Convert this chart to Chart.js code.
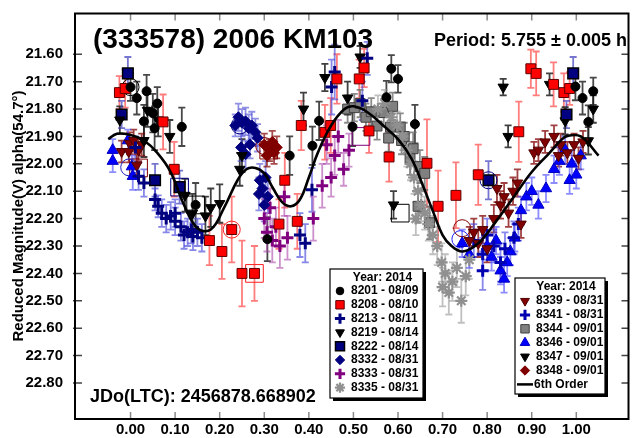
<!DOCTYPE html>
<html><head><meta charset="utf-8">
<script src="https://cdn.jsdelivr.net/npm/chart.js@4.4.0/dist/chart.umd.min.js"></script>
<style>html,body{margin:0;padding:0;background:#fff;overflow:hidden}</style>
</head><body>
<canvas id="c" width="642" height="438"></canvas>
<script>
// ---------- tick labels ----------
const xTickValues = [0.0,0.1,0.2,0.3,0.4,0.5,0.6,0.7,0.8,0.9,1.0];
const yTickValues = [21.6,21.7,21.8,21.9,22.0,22.1,22.2,22.3,22.4,22.5,22.6,22.7,22.8];

// ---------- fit curve (6th order) : phase, magnitude ----------
const fitPhase = [-0.05,-0.03,0.00,0.03,0.06,0.09,0.12,0.15,0.18,0.21,0.24,0.26,0.28,0.30,0.32,0.34,0.36,0.38,0.40,0.42,0.45,0.48,0.50,0.53,0.57,0.60,0.63,0.656,0.68,0.70,0.72,0.745,0.78,0.82,0.86,0.90,0.94,0.965,0.98,1.01,1.05];
const fitMag   = [21.91,21.89,21.895,21.915,21.96,22.03,22.15,22.235,22.24,22.16,22.06,22.02,22.015,22.035,22.09,22.14,22.155,22.13,22.05,21.96,21.86,21.80,21.79,21.81,21.865,21.91,21.98,22.08,22.18,22.26,22.30,22.32,22.29,22.21,22.12,22.03,21.96,21.915,21.898,21.90,21.97];

// ---------- observations : [phase, magnitude, error] ----------
const s8201 = [[0.000,21.720,0.05],[0.014,21.760,0.06],[0.036,21.735,0.06],[0.030,21.845,0.06],[0.050,21.815,0.07],[0.060,21.780,0.06],[0.054,21.870,0.08],[0.115,21.865,0.07],[0.146,22.150,0.08],[0.307,22.275,0.08],[0.357,21.970,0.07],[0.408,21.934,0.07],[0.423,21.843,0.07],[0.498,21.865,0.07],[0.574,21.757,0.06],[0.585,21.653,0.05],[0.600,21.690,0.05],[0.638,21.855,0.07],[0.998,21.718,0.05],[1.014,21.760,0.06],[1.027,21.847,0.06],[1.038,21.735,0.05]];
const s8208 = [[-0.025,21.740,0.06],[-0.012,21.725,0.07],[0.073,21.847,0.10],[0.098,22.020,0.10],[0.177,22.280,0.09],[0.227,22.240,0.12],[0.205,22.320,0.10],[0.250,22.400,0.12],[0.278,22.400,0.10],[0.333,22.220,0.09],[0.346,22.060,0.10],[0.374,22.210,0.10],[0.383,21.860,0.09],[0.436,21.885,0.10],[0.449,21.860,0.10],[0.463,21.690,0.09],[0.513,21.690,0.07],[0.524,21.650,0.07],[0.535,21.880,0.08],[0.580,21.975,0.09],[0.665,21.998,0.16],[0.690,22.155,0.13],[0.730,22.115,0.12],[0.780,22.040,0.11],[0.871,21.883,0.11],[0.898,21.653,0.07],[0.910,21.670,0.08],[0.949,21.710,0.08],[0.972,21.740,0.07],[0.985,21.725,0.06]];
const s8213 = [[0.011,21.940,0.04],[0.018,22.045,0.05],[0.030,22.070,0.05],[0.055,22.130,0.04],[0.062,22.155,0.04],[0.070,22.180,0.05],[0.080,22.200,0.05],[0.090,22.190,0.05],[0.100,22.210,0.05],[0.100,22.180,0.05],[0.113,22.230,0.05],[0.120,22.260,0.05],[0.128,22.250,0.05],[0.136,22.240,0.05],[0.140,22.265,0.05],[0.150,22.250,0.05],[0.160,22.270,0.05],[0.380,22.260,0.08],[0.392,22.290,0.07],[0.407,22.095,0.08],[0.451,21.720,0.10],[0.458,21.665,0.10],[0.531,21.615,0.06],[0.520,21.770,0.07]];
const s8219 = [[-0.024,21.840,0.05],[0.030,21.915,0.06],[0.038,21.805,0.06],[0.062,21.840,0.06],[0.088,21.900,0.06],[0.122,22.115,0.06],[0.139,22.180,0.07],[0.168,22.190,0.07],[0.180,22.160,0.07],[0.200,22.145,0.07],[0.245,22.020,0.06],[0.250,21.970,0.06]];
const s8222 = [[-0.006,21.670,0.06],[-0.020,21.820,0.05],[0.055,22.060,0.06],[0.110,22.085,0.06],[0.803,22.060,0.07],[0.978,21.820,0.05],[0.993,21.670,0.06]];
const s8332 = [[0.235,21.860,0.04],[0.242,21.830,0.05],[0.250,21.850,0.05],[0.258,21.845,0.05],[0.265,21.870,0.05],[0.272,21.860,0.05],[0.280,21.885,0.05],[0.285,21.905,0.05],[0.248,21.940,0.05],[0.258,21.965,0.05],[0.268,21.930,0.05],[0.290,22.060,0.06],[0.296,22.090,0.06],[0.303,22.050,0.06],[0.308,22.120,0.06],[0.300,22.150,0.06],[0.288,22.110,0.06]];
const s8333 = [[0.300,22.200,0.07],[0.306,22.250,0.07],[0.313,22.160,0.07],[0.318,22.280,0.08],[0.326,22.230,0.07],[0.335,22.300,0.08],[0.345,22.120,0.07],[0.352,22.270,0.08],[0.410,22.200,0.08],[0.430,22.080,0.08],[0.440,21.930,0.07],[0.450,22.050,0.07],[0.458,21.970,0.07],[0.466,21.900,0.06],[0.478,22.020,0.06],[0.490,21.950,0.06]];
const s8335 = [[0.555,21.800,0.05],[0.570,21.780,0.05],[0.585,21.830,0.05],[0.598,21.860,0.05],[0.610,21.900,0.05],[0.620,21.950,0.06],[0.628,22.000,0.06],[0.636,22.050,0.06],[0.645,22.100,0.06],[0.652,22.150,0.06],[0.660,22.180,0.06],[0.668,22.220,0.06],[0.678,22.260,0.07],[0.688,22.300,0.07],[0.698,22.360,0.07],[0.706,22.400,0.07],[0.714,22.470,0.08],[0.722,22.430,0.07],[0.732,22.380,0.07],[0.742,22.500,0.08],[0.752,22.410,0.07],[0.760,22.350,0.07],[0.640,22.200,0.06],[0.700,22.450,0.07]];
const s8339 = [[-0.020,21.955,0.04],[-0.004,21.955,0.04],[-0.002,21.925,0.04],[0.007,21.915,0.04],[0.014,22.005,0.04],[0.018,21.950,0.04],[0.025,21.930,0.04],[0.760,22.280,0.05],[0.770,22.250,0.05],[0.780,22.290,0.05],[0.790,22.240,0.05],[0.800,22.310,0.05],[0.815,22.200,0.05],[0.822,22.090,0.05],[0.830,22.150,0.05],[0.838,22.120,0.05],[0.848,22.180,0.05],[0.858,22.100,0.05],[0.868,22.070,0.05],[0.876,22.220,0.05],[0.905,21.960,0.04],[0.915,21.950,0.04],[0.930,21.920,0.04],[0.950,21.900,0.04],[0.960,21.970,0.04],[0.965,21.930,0.04],[0.980,21.960,0.04],[0.995,21.930,0.04],[1.005,21.980,0.04],[1.015,21.920,0.04]];
const s8341 = [[0.770,22.280,0.06],[0.790,22.330,0.06],[0.790,22.390,0.07],[0.800,22.260,0.06],[0.815,22.300,0.06],[0.830,22.360,0.07],[0.840,22.310,0.06],[0.860,22.270,0.06],[0.870,22.220,0.06]];
const s8344 = [[0.487,21.800,0.05],[0.502,21.795,0.05],[0.515,21.780,0.05],[0.528,21.830,0.05],[0.540,21.810,0.05],[0.553,21.862,0.05],[0.568,21.813,0.05],[0.579,21.906,0.05],[0.583,21.866,0.05],[0.588,21.790,0.05],[0.605,21.866,0.05],[0.608,21.915,0.05],[0.614,21.900,0.05],[0.627,21.980,0.06],[0.634,21.945,0.06],[0.645,22.155,0.06],[0.649,22.010,0.06],[0.660,22.035,0.06],[0.671,22.215,0.06]];
const s8346 = [[-0.040,21.950,0.04],[-0.040,21.990,0.04],[-0.006,21.915,0.04],[0.003,22.010,0.04],[0.005,22.045,0.05],[0.744,22.290,0.05],[0.760,22.330,0.05],[0.800,22.300,0.05],[0.810,22.340,0.05],[0.820,22.280,0.05],[0.830,22.390,0.05],[0.838,22.420,0.05],[0.845,22.360,0.05],[0.852,22.320,0.05],[0.862,22.270,0.05],[0.876,22.170,0.05],[0.888,22.120,0.05],[0.900,22.100,0.05],[0.915,22.150,0.05],[0.932,22.090,0.05],[0.950,22.020,0.05],[0.962,21.990,0.05],[0.975,21.950,0.05],[0.985,22.060,0.05],[0.990,22.000,0.05],[1.000,22.040,0.05],[1.010,21.970,0.05]];
const s8347 = [[0.388,21.800,0.06],[0.436,21.685,0.05],[0.487,21.760,0.06],[0.515,21.610,0.04],[0.590,22.150,0.05],[0.836,21.720,0.03],[0.847,21.900,0.04],[0.940,21.710,0.04],[0.975,21.843,0.05],[1.027,21.916,0.05],[1.038,21.800,0.05]];
const s8348 = [[0.300,21.930,0.04],[0.306,21.970,0.04],[0.312,21.950,0.04],[0.318,21.920,0.04],[0.322,21.960,0.04],[0.328,21.940,0.04]];

// ---------- flagged (open) markers : [phase, magnitude] ----------
const openCircles = [[0.000,21.720],[-0.003,22.013],[0.227,22.240],[0.245,21.860],[0.300,21.935],[0.803,22.060],[0.744,22.235],[0.740,22.275]];
const openCircleColors = ['#000000','#2020c0','#ff2020','#000080','#800000','#000080','#800000','#2020ff'];
const openSquares = [[0.018,22.015],[0.110,22.085],[0.146,22.150],[0.278,22.400],[0.310,21.950],[0.517,21.900],[0.605,22.180]];
const openSquareColors = ['#800000','#000080','#000000','#ff2020','#800000','#800080','#000000'];

// ---------- series styles ----------
const FONT = "'Liberation Sans', Arial, sans-serif";
const series = [
  {label:'8201 - 08/09', data:s8201, style:'circle',   radius:4.5, rot:0,   fill:'#000000', stroke:'#000000', bw:1,   err:'rgba(40,40,40,0.85)', legend:1},
  {label:'8208 - 08/10', data:s8208, style:'rect',     radius:7,   rot:0,   fill:'#ff0000', stroke:'#5a0000', bw:1,   err:'rgba(255,70,70,0.7)', legend:1},
  {label:'8213 - 08/11', data:s8213, style:'cross',    radius:6,   rot:0,   fill:'#000080', stroke:'#000080', bw:3,   err:'rgba(70,70,220,0.65)', legend:1},
  {label:'8219 - 08/14', data:s8219, style:'triangle', radius:6,   rot:180, fill:'#000000', stroke:'#000000', bw:1,   err:'rgba(30,30,30,0.85)', legend:1},
  {label:'8222 - 08/14', data:s8222, style:'rect',     radius:7.5, rot:0,   fill:'#000080', stroke:'#000000', bw:1.5, err:'rgba(60,60,190,0.7)', legend:1},
  {label:'8332 - 08/31', data:s8332, style:'rectRot',  radius:5.5, rot:0,   fill:'#000080', stroke:'#000080', bw:1,   err:'rgba(70,70,210,0.6)', legend:1},
  {label:'8333 - 08/31', data:s8333, style:'cross',    radius:6,   rot:0,   fill:'#800080', stroke:'#800080', bw:3,   err:'rgba(170,70,170,0.6)', legend:1},
  {label:'8335 - 08/31', data:s8335, style:'star',     radius:6,   rot:0,   fill:'#909090', stroke:'#909090', bw:2.2, err:'rgba(150,150,150,0.6)', legend:1},
  {label:'8339 - 08/31', data:s8339, style:'triangle', radius:6,   rot:180, fill:'#800000', stroke:'#500000', bw:1,   err:'rgba(128,0,0,0.75)', legend:2},
  {label:'8341 - 08/31', data:s8341, style:'cross',    radius:6,   rot:0,   fill:'#0000b0', stroke:'#0000b0', bw:3,   err:'rgba(70,70,230,0.65)', legend:2},
  {label:'8344 - 09/01', data:s8344, style:'rect',     radius:7,   rot:0,   fill:'#808080', stroke:'#404040', bw:1,   err:'rgba(110,110,110,0.8)', legend:2},
  {label:'8346 - 09/01', data:s8346, style:'triangle', radius:6.5, rot:0,   fill:'#0000ff', stroke:'#0000c0', bw:1,   err:'rgba(80,80,255,0.65)', legend:2},
  {label:'8347 - 09/01', data:s8347, style:'triangle', radius:6,   rot:180, fill:'#000000', stroke:'#000000', bw:1,   err:'rgba(30,30,30,0.85)', legend:2},
  {label:'8348 - 09/01', data:s8348, style:'rectRot',  radius:5.5, rot:0,   fill:'#800000', stroke:'#800000', bw:1,   err:'rgba(128,0,0,0.7)', legend:2}
];

const datasets = [{
  type:'line', label:'6th Order',
  data: fitPhase.map((p,i)=>({x:p, y:fitMag[i]})),
  borderColor:'#000', borderWidth:2.6, pointRadius:0, tension:0.4, fill:false, order:0
}];
series.forEach((s,i)=>{
  datasets.push({
    type:'scatter', label:s.label,
    data: s.data.map(d=>({x:d[0], y:d[1], e:d[2]})),
    pointStyle:s.style, pointRadius:s.radius, pointRotation:s.rot,
    backgroundColor:s.fill, borderColor:s.stroke, borderWidth:s.bw,
    errColor:s.err, order:1+i
  });
});
datasets.push({type:'scatter', label:'flagged circles', data:openCircles.map(d=>({x:d[0], y:d[1]})),
  pointStyle:'circle', pointRadius:8.5, backgroundColor:'rgba(0,0,0,0)', borderColor:openCircleColors, borderWidth:1, order:20});
datasets.push({type:'scatter', label:'flagged squares', data:openSquares.map(d=>({x:d[0], y:d[1]})),
  pointStyle:'rect', pointRadius:12.5, backgroundColor:'rgba(0,0,0,0)', borderColor:openSquareColors, borderWidth:1, order:21});

// ---------- plugins ----------
const errorBars = {
  id:'errorBars',
  beforeDatasetsDraw(chart){
    const {ctx, chartArea:a, scales:{x,y}} = chart;
    ctx.save();
    ctx.beginPath(); ctx.rect(a.left, a.top, a.right-a.left, a.bottom-a.top); ctx.clip();
    ctx.lineWidth = 1.8;
    chart.data.datasets.forEach(ds=>{
      if(!ds.errColor) return;
      ctx.strokeStyle = ds.errColor;
      ds.data.forEach(pt=>{
        const px = x.getPixelForValue(pt.x);
        const y1 = y.getPixelForValue(pt.y - pt.e), y2 = y.getPixelForValue(pt.y + pt.e);
        ctx.beginPath();
        ctx.moveTo(px, y1); ctx.lineTo(px, y2);
        ctx.moveTo(px-3.5, y1); ctx.lineTo(px+3.5, y1);
        ctx.moveTo(px-3.5, y2); ctx.lineTo(px+3.5, y2);
        ctx.stroke();
      });
    });
    ctx.restore();
  }
};

function drawMarker(ctx, s, x, y){
  ctx.save();
  ctx.fillStyle = s.fill; ctx.strokeStyle = s.stroke; ctx.lineWidth = s.bw;
  Chart.helpers.drawPoint(ctx, {pointStyle:s.style, radius:s.radius*0.85, rotation:s.rot, borderWidth:s.bw}, x, y);
  ctx.restore();
}

function drawLegend(ctx, box, entries, withFit){
  ctx.save();
  ctx.fillStyle = '#000';
  ctx.fillRect(box.x+3, box.y+3, box.w, box.h);
  ctx.fillStyle = '#fff';
  ctx.fillRect(box.x, box.y, box.w, box.h);
  ctx.strokeStyle = '#000'; ctx.lineWidth = 1.2;
  ctx.strokeRect(box.x, box.y, box.w, box.h);
  ctx.fillStyle = '#000';
  ctx.font = 'bold 12px ' + FONT;
  ctx.textBaseline = 'middle';
  ctx.textAlign = 'center';
  ctx.fillText('Year: 2014', box.x + box.w/2 + 6, box.y + box.t);
  ctx.textAlign = 'left';
  entries.forEach((s,i)=>{
    const cy = box.y + box.first + i*box.step;
    drawMarker(ctx, s, box.x + 10, cy);
    ctx.fillStyle = '#000';
    ctx.fillText(s.label, box.x + 21, cy);
  });
  if(withFit){
    const cy = box.y + box.first + entries.length*box.step;
    ctx.strokeStyle = '#000'; ctx.lineWidth = 2.5;
    ctx.beginPath(); ctx.moveTo(box.x+2, cy); ctx.lineTo(box.x+18, cy); ctx.stroke();
    ctx.fillText('6th Order', box.x + 19, cy);
  }
  ctx.restore();
}

const decorations = {
  id:'decorations',
  afterDraw(chart){
    const {ctx, chartArea:a, scales:{x,y}} = chart;
    ctx.save();
    // inward ticks
    ctx.lineWidth = 1.5;
    ctx.strokeStyle = '#8a8a8a';
    xTickValues.forEach(v=>{
      const px = x.getPixelForValue(v);
      ctx.beginPath(); ctx.moveTo(px, a.top); ctx.lineTo(px, a.top+7);
      ctx.moveTo(px, a.bottom); ctx.lineTo(px, a.bottom-7); ctx.stroke();
    });
    ctx.strokeStyle = '#444';
    yTickValues.forEach(v=>{
      const py = y.getPixelForValue(v);
      ctx.beginPath(); ctx.moveTo(a.left-2, py); ctx.lineTo(a.left+7, py);
      ctx.moveTo(a.right-7, py); ctx.lineTo(a.right, py); ctx.stroke();
    });
    // frame
    ctx.strokeStyle = '#000'; ctx.lineWidth = 2;
    ctx.strokeRect(a.left, a.top, a.right-a.left, a.bottom-a.top);

    // x tick labels (from the x scale)
    ctx.fillStyle = '#000';
    ctx.font = 'bold 15px ' + FONT;
    ctx.textAlign = 'center'; ctx.textBaseline = 'middle';
    xTickValues.forEach(v=>{
      ctx.fillText(v.toFixed(2), x.getPixelForValue(v), a.bottom + 11);
    });

    // texts
    ctx.textBaseline = 'alphabetic';
    ctx.textAlign = 'left';
    ctx.font = 'bold 28px ' + FONT;
    ctx.fillText('(333578) 2006 KM103', 93, 48);
    ctx.font = 'bold 18px ' + FONT;
    ctx.fillText('Period: 5.755 \u00b1 0.005 h', 434, 46);
    ctx.fillText('JDo(LTC): 2456878.668902', 90, 402);
    // y title
    ctx.save();
    ctx.translate(19, 216);
    ctx.rotate(-Math.PI/2);
    ctx.textAlign = 'center'; ctx.textBaseline = 'middle';
    ctx.font = 'bold 15px ' + FONT;
    ctx.fillText('Reduced Magnitude(V) alpha(54.7\u00b0)', 0, 0);
    ctx.restore();

    // legends
    drawLegend(ctx, {x:330, y:269, w:93, h:129, t:9, first:22, step:13.8}, series.filter(s=>s.legend===1), false);
    drawLegend(ctx, {x:515, y:278, w:90, h:116, t:9, first:23, step:13.9}, series.filter(s=>s.legend===2), true);
    ctx.restore();
  }
};

Chart.defaults.font.family = FONT;
new Chart(document.getElementById('c'), {
  data:{datasets},
  options:{
    responsive:false, animation:false, devicePixelRatio:1,
    layout:{padding:{top:8, right:2, left:0, bottom:0}},
    plugins:{legend:{display:false}, tooltip:{enabled:false}},
    scales:{
      x:{type:'linear', position:'bottom', min:-0.1246, max:1.1171,
         afterBuildTicks:s=>{s.ticks = xTickValues.map(v=>({value:v}));},
         afterFit:s=>{s.height = 19;},
         grid:{display:false}, border:{display:false},
         ticks:{display:false}},
      y:{type:'linear', position:'left', reverse:true, min:21.4513, max:22.9314,
         afterBuildTicks:s=>{s.ticks = yTickValues.map(v=>({value:v}));},
         afterFit:s=>{s.width = 75;},
         grid:{display:false}, border:{display:false},
         ticks:{callback:v=>v.toFixed(2), color:'#000', font:{size:15, weight:'bold'}, padding:4, autoSkip:false}}
    }
  },
  plugins:[errorBars, decorations]
});
</script>
</body></html>
